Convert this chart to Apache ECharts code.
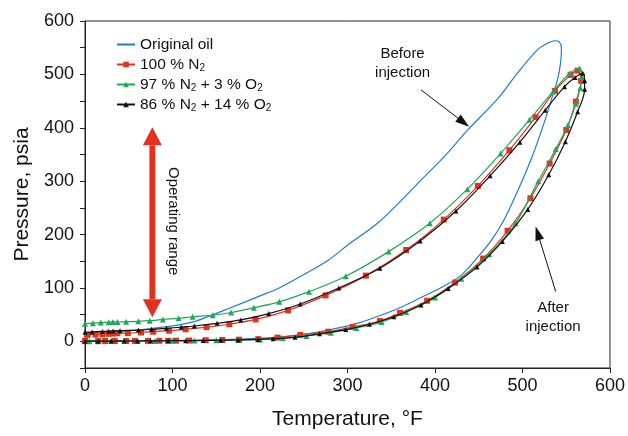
<!DOCTYPE html>
<html>
<head>
<meta charset="utf-8">
<script src="https://cdn.jsdelivr.net/npm/echarts@6/dist/echarts.min.js"></script>
<style>
html,body{margin:0;padding:0;background:#fff;}
#chart{width:628px;height:436px;}
</style>
</head>
<body>
<div id="chart"></div>
<script>
// ---- data: [temperature °F, pressure psia] ----
const seriesNames = ['Original oil', '100 % N2', '97 % N2 + 3 % O2', '86 % N2 + 14 % O2'];

const oilCurve = [
  [0,15],[25,17],[50,20],[75,24],[100,29],[125,37],[142,47],[165,62],[200,85],[222,100],
  [250,125],[278,152],[300,180],[335,222],[361,263],[384,302],[410,345],[437,395],[472,455],
  [494,502],[517,546],[528,558],[537,563],[542,561],[544.5,549],[543.5,521],[540,490],[534,458],
  [527,421],[522,396],[512,350],[500,302],[489,262],[477,222],[464,188],[449,158],[430,124],
  [410,103],[384,82],[360,63],[335,47],[310,33],[278,21],[250,13],[222,8],[190,5],[160,3],
  [130,2],[100,1.5],[50,1],[0,0.5]
];

const n2Curve = [
  [3,12],[12,12.5],[20,13],[27,14],[32,14.5],[37,15],[49,15.5],[64,16.5],[78,18],[96,20],
  [115,22.5],[139,26.5],[165,32],[195,41],[232,58],[275,86],[321,123],[367,171],[410,228],
  [449,291],[485,358],[515,420],[537,469],[555,499],[563,507],
  [567,488],[561,449],[550,396],[531,333],[509,268],[483,207],[455,155],[423,110],[391,76],
  [360,53],[337,38],[306,27],[278,18],[246,12],[220,7],[198,4],[176,3],[157,2.5],[138,2],
  [119,1.5],[104,1.2],[95,1],[85,1],[72,0.8],[57,0.7],[47,0.6],[34,0.5],[23,0.5],[15,0.5],[0,0.5]
];

const n2o2Curve3 = [
  [0,33],[9,34],[18,35],[27,35.5],[32,36],[37,36.2],[47,36.7],[61,37.4],[74,38.6],[89,41],
  [107,43],[123,46],[146,49],[167,54],[193,63],[222,74],[256,93],[298,122],[347,168],[394,221],
  [437,285],[475,352],[508,415],[535,468],[554,502],[565,511],
  [568,495],[566,475],[561,445],[552,405],[538,360],[518,300],[492,221],[462,163],[430,117],
  [400,82],[367,55],[339,36],[310,25],[281,16],[253,10],[226,6],[200,3.5],[175,2.5],[150,2],
  [125,1.5],[100,1],[80,0.8],[60,0.6],[45,0.5],[30,0.4],[15,0.3],[5,0.3]
];

const n2o2Curve14 = [
  [0,17],[8,17.5],[20,18.5],[27,19],[32,19.3],[40,20],[61,21],[76,22.4],[93,24.3],[110,26.5],
  [125,28.7],[151,33.7],[178,40],[210,52],[246,70],[290,100],[337,137],[383,188],[424,244],
  [463,310],[497,373],[526,433],[548,477],[560,494],[569,502],
  [571,488],[571,472],[563,430],[549,374],[530,312],[506,247],[477,187],[448,139],[415,99],
  [384,68],[353,46],[325,32],[298,22],[268,14],[240,7.5],[215,5],[198,3.5],[175,2.5],[155,2],
  [135,1.5],[115,1.2],[95,1],[75,0.8],[60,0.6],[45,0.5],[30,0.4],[15,0.3],[0,0.3]
];

const xTicks = {min: 0, max: 600, step: 100};
const yTicks = {min: -50, max: 600, step: 50, labelStep: 100};

// annotation anchors in data coordinates
const operatingArrow = {from: [77, 401], to: [77, 45]};
const beforeArrow = {from: [384, 471], to: [439, 402]};
const afterArrow = {from: [538, 93], to: [515, 215]};
const beforeText = {at: [363, 521], text: 'Before\ninjection'};
const afterText = {at: [535, 45], text: 'After\ninjection'};
const operatingText = {at: [101, 225], text: 'Operating range'};

// ---- chart ----
const FONT = '"Liberation Sans", Arial, Helvetica, sans-serif';
const colors = ['#1f7fc6', '#e2321f', '#1fa85a', '#111111'];
const chart = echarts.init(document.getElementById('chart'), null, {renderer: 'canvas'});

function subFmt(name) {
  return name.replace(/([NO])2/g, '$1{s|2}');
}

const lineW = 1.2;
const option = {
  animation: false,
  backgroundColor: '#fff',
  grid: {left: 85, right: 15, top: 21, bottom: 68, show: true, borderColor: '#222', borderWidth: 1, containLabel: false},
  legend: {
    orient: 'vertical', left: 111, top: 31, itemGap: 3, itemWidth: 18, itemHeight: 7,
    data: [
      {name: seriesNames[0], itemStyle: {color: 'rgba(0,0,0,0)', borderWidth: 0, opacity: 0}},
      seriesNames[1], seriesNames[2], seriesNames[3]
    ],
    formatter: subFmt,
    textStyle: {fontFamily: FONT, fontSize: 15.5, color: '#111', lineHeight: 17,
      rich: {s: {fontFamily: FONT, fontSize: 10, lineHeight: 10, padding: [7, 0, 0, 0], color: '#111'}}}
  },
  xAxis: {
    type: 'value', min: xTicks.min, max: xTicks.max, interval: xTicks.step,
    name: 'Temperature, °F', nameLocation: 'middle', nameGap: 41,
    nameTextStyle: {fontFamily: FONT, fontSize: 21, color: '#111'},
    axisLine: {show: true, onZero: false, lineStyle: {color: '#222', width: 1}},
    axisTick: {show: true, inside: false, length: 5, lineStyle: {color: '#222'}},
    axisLabel: {fontFamily: FONT, fontSize: 18, color: '#111', margin: 9},
    splitLine: {show: false}
  },
  yAxis: {
    type: 'value', min: yTicks.min, max: yTicks.max, interval: yTicks.step,
    name: 'Pressure, psia', nameLocation: 'middle', nameGap: 47, nameRotate: 90,
    nameTextStyle: {fontFamily: FONT, fontSize: 21, color: '#111'},
    axisLine: {show: true, onZero: false, lineStyle: {color: '#222', width: 1}},
    axisTick: {show: true, inside: false, length: 5, lineStyle: {color: '#222'}},
    axisLabel: {fontFamily: FONT, fontSize: 18, color: '#111', margin: 11,
      formatter: v => (v >= 0 && v % yTicks.labelStep === 0) ? String(v) : ''},
    splitLine: {show: false}
  },
  series: [
    {name: seriesNames[0], type: 'line', data: oilCurve, smooth: 0.35, symbol: 'none', showSymbol: false,
      lineStyle: {color: colors[0], width: lineW}, itemStyle: {color: colors[0]}, z: 2},
    {name: seriesNames[1], type: 'line', data: n2Curve, smooth: 0.35, symbol: 'rect', symbolSize: 6, showAllSymbol: true,
      lineStyle: {color: colors[1], width: lineW}, itemStyle: {color: colors[1]}, z: 3},
    {name: seriesNames[2], type: 'line', data: n2o2Curve3, smooth: 0.35, symbol: 'triangle', symbolSize: 6, showAllSymbol: true,
      lineStyle: {color: colors[2], width: lineW}, itemStyle: {color: colors[2]}, z: 4},
    {name: seriesNames[3], type: 'line', data: n2o2Curve14, smooth: 0.35, symbol: 'triangle', symbolSize: 5, showAllSymbol: true,
      lineStyle: {color: colors[3], width: lineW}, itemStyle: {color: colors[3]}, z: 5}
  ]
};
chart.setOption(option);

// ---- annotations (positions from data coordinates) ----
function px(p) { return chart.convertToPixel({gridIndex: 0}, p); }
function head(from, to, len, w) {
  const dx = to[0] - from[0], dy = to[1] - from[1];
  const L = Math.sqrt(dx * dx + dy * dy);
  const ux = dx / L, uy = dy / L, nx = -uy, ny = ux;
  const bx = to[0] - ux * len, by = to[1] - uy * len;
  return {base: [bx, by], pts: [[to[0], to[1]], [bx + nx * w / 2, by + ny * w / 2], [bx - nx * w / 2, by - ny * w / 2]]};
}
const g = [];
function arrow(a, color, width, len, w, both) {
  const f = px(a.from), t = px(a.to);
  const h2 = head(f, t, len, w);
  let start = f;
  if (both) {
    const h1 = head(t, f, len, w);
    start = h1.base;
    g.push({type: 'polygon', shape: {points: h1.pts}, style: {fill: color}, z: 50});
  }
  g.push({type: 'line', shape: {x1: start[0], y1: start[1], x2: h2.base[0], y2: h2.base[1]}, style: {stroke: color, lineWidth: width}, z: 50});
  g.push({type: 'polygon', shape: {points: h2.pts}, style: {fill: color}, z: 50});
}
arrow(operatingArrow, '#e2321f', 6, 18, 19, true);
arrow(beforeArrow, '#111', 1, 14, 9, false);
arrow(afterArrow, '#111', 1, 14, 9, false);

function label(o, rot) {
  const p = px(o.at);
  g.push({type: 'text', x: p[0], y: p[1], rotation: rot || 0,
    style: {text: o.text, fontFamily: FONT, fontSize: 15, fill: '#111', align: 'center', verticalAlign: 'middle', lineHeight: 19}, z: 50});
}
label(beforeText);
label(afterText);
label(operatingText, -Math.PI / 2);

chart.setOption({graphic: g});
</script>
</body>
</html>
